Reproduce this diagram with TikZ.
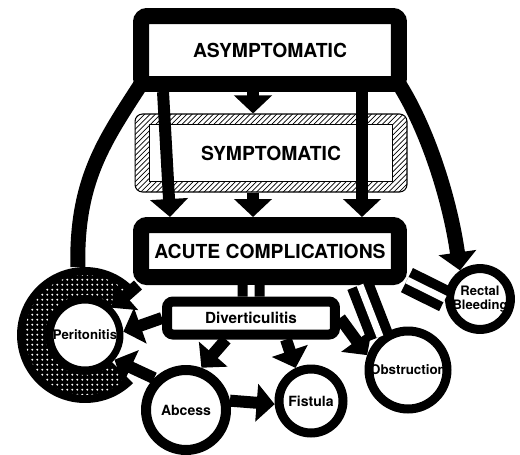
\documentclass[tikz,border=0pt]{standalone}
\usepackage{fontspec}
\setmainfont{TeX Gyre Heros}
\usepackage{tikz}
\usetikzlibrary{arrows.meta,patterns,positioning}
\pgfdeclarepatternformonly{bigdots}{\pgfpointorigin}{\pgfqpoint{3pt}{3pt}}{\pgfqpoint{3pt}{3pt}}{%
\pgfpathcircle{\pgfqpoint{1.5pt}{1.5pt}}{0.7pt}\pgfusepath{fill}}

\begin{document}
\begin{tikzpicture}[%
x=0.02cm, y=-0.02cm,
>={Triangle[length=0.36cm,width=0.74cm]},
frame/.style={draw, shape=rectangle, fill=white, line width=0.32cm, rounded corners=0.12cm, inner sep=0pt, font=\bfseries\fontsize{11}{13}\selectfont},
hatch/.style={draw, shape=rectangle, pattern=north east lines, line width=0.6pt, rounded corners=0.15cm, inner sep=0pt},
inbox/.style={draw, shape=rectangle, fill=white, line width=0.6pt, inner sep=0pt, font=\bfseries\fontsize{11}{13}\selectfont},
state/.style={draw, shape=circle, fill=white, line width=0.18cm, inner sep=0pt, align=center, font=\bfseries\fontsize{8}{8.5}\selectfont},
flow/.style={line width=0.24cm},
pipe/.style={line width=0.2cm, double=white, double distance=0.14cm}
]
\useasboundingbox (0,0) rectangle (520,454);
\node[hatch, minimum width=5.44cm, minimum height=1.56cm] (sympout) at (271,153) {};
\node[inbox, minimum width=4.86cm, minimum height=1.14cm] (symp) at (271,153) {SYMPTOMATIC};
\node[frame, minimum width=5.16cm, minimum height=1.36cm] (asym) at (270,50) {ASYMPTOMATIC};
\node[frame, minimum width=5.16cm, minimum height=1.04cm] (acute) at (270,251) {ACUTE COMPLICATIONS};
\node[frame, line width=0.2cm, minimum width=3.36cm, minimum height=0.66cm, font=\bfseries\fontsize{8.7}{9}\selectfont] (divert) at (251,318) {Diverticulitis};

\node[circle, minimum size=2.72cm, inner sep=0pt] (ring) at (85,335) {};
\fill[black] (ring.center) ++(45:1.36cm) arc[start angle=45, end angle=315, radius=1.36cm] -- ++(135:0.64cm) arc[start angle=315, end angle=45, radius=0.72cm] -- cycle;
\fill[pattern=bigdots, pattern color=white] (ring.center) ++(49:1.2cm) arc[start angle=49, end angle=311, radius=1.2cm] -- ++(131:0.4cm) arc[start angle=311, end angle=49, radius=0.8cm] -- cycle;
\node[state, minimum size=1.4cm, line width=0.14cm, font=\bfseries\fontsize{7.5}{8}\selectfont] (perit) at (ring.center) {Peritonitis};
\node[state, minimum size=1.6cm, line width=0.2cm] (abcess) at (186,410) {Abcess};
\node[state, minimum size=1.28cm] (fistula) at (311,401) {Fistula};
\node[state, minimum size=1.56cm, font=\bfseries\fontsize{7.6}{8}\selectfont] (obstr) at (408,370) {Obstruction};
\node[state, minimum size=1.16cm, font=\bfseries\fontsize{7.4}{8}\selectfont] (rectal) at (480,299) {Rectal\\Bleeding};

\draw[flow,->] ([xshift=-0.34cm]asym.south) -- ([xshift=-0.36cm]sympout.north);
\draw[flow,->] ([xshift=-2.14cm]asym.south) -- ([xshift=-2cm]acute.north);
\draw[flow,->] ([xshift=1.84cm]asym.south) -- ([xshift=1.84cm]acute.north);
\draw[flow,->] ([xshift=-0.36cm]sympout.south) -- ([xshift=-0.34cm]acute.north);
\draw[flow, line width=0.3cm] ([shift={(0.16cm,0.16cm)}]asym.south west) .. controls (105,140) and (76,180) .. (ring.96);
\draw[flow, line width=0.3cm, ->] ([shift={(-0.16cm,0.16cm)}]asym.south east) .. controls (428,130) and (450,200) .. (rectal.125);

\draw[pipe] (acute.-12) -- (rectal.west);
\draw[pipe] ([xshift=1.8cm]acute.south) -- (obstr.130);
\draw[pipe] ([xshift=-0.38cm]acute.south) -- (divert.north);
\draw[flow,->] ([xshift=0.1cm]acute.south west) -- (perit.45);

\draw[flow,->] (divert.west) -- (perit.5);
\draw[flow,->] ([xshift=-0.5cm]divert.south) -- (abcess.70);
\draw[flow,->] ([xshift=0.7cm]divert.south) -- (fistula.115);
\draw[flow,->] (divert.east) -- (obstr.160);
\draw[flow,->] (abcess.135) -- (perit.-40);
\draw[flow,->] (abcess.12) -- (fistula.185);
\end{tikzpicture}
\end{document}
